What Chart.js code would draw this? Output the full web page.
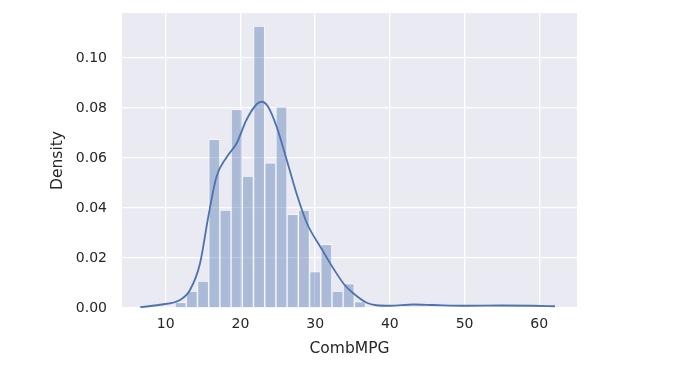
<!DOCTYPE html>
<html>
<head>
<meta charset="utf-8">
<script src="https://cdn.jsdelivr.net/npm/chart.js@4.4.1/dist/chart.umd.min.js"></script>
<style>
  html, body { margin: 0; padding: 0; background: #ffffff; }
  #wrap { width: 687px; height: 376px; position: relative; }
</style>
</head>
<body>
<div id="wrap"><canvas id="c" width="687" height="376"></canvas></div>
<script>
// Histogram bins (centers, width 1.5) and densities
const binCenters = [12.0, 13.5, 15.0, 16.5, 18.0, 19.5, 21.0, 22.5, 24.0, 25.5, 27.0, 28.5, 30.0, 31.5, 33.0, 34.5, 36.0];
const binDensity = [0.0023, 0.0068, 0.0108, 0.0675, 0.0392, 0.0795, 0.0528, 0.1128, 0.0581, 0.0805, 0.0375, 0.0392, 0.0146, 0.0255, 0.0068, 0.0098, 0.0026];

// KDE curve
const kdeX = [6.6, 9.2, 11.9, 13.25, 14.6, 15.7, 16.8, 18.2, 19.5, 20.8, 22.2, 22.85, 23.7, 24.85, 26.2, 27.5, 28.9, 30.8, 32.4, 33.9, 35.1, 36.9, 38.2, 40.0, 43.2, 45.8, 50.3, 54.8, 59.2, 62.1];
const kdeY = [0.0003, 0.0013, 0.0032, 0.0072, 0.0179, 0.0365, 0.0525, 0.0605, 0.0659, 0.0752, 0.0816, 0.0825, 0.0805, 0.0725, 0.0592, 0.0459, 0.0339, 0.0240, 0.0160, 0.0094, 0.0059, 0.0021, 0.0011, 0.0009, 0.0014, 0.0012, 0.0009, 0.0010, 0.0009, 0.0007];

const xTicks = [10, 20, 30, 40, 50, 60];
const yTicks = [0.00, 0.02, 0.04, 0.06, 0.08, 0.10];
const xLabel = 'CombMPG';
const yLabel = 'Density';

const bgPlugin = {
  id: 'bg',
  beforeDraw(chart) {
    const {ctx, chartArea: a} = chart;
    ctx.save();
    ctx.fillStyle = '#EAEAF2';
    ctx.fillRect(a.left, a.top, a.right - a.left, a.bottom - a.top);
    ctx.restore();
  }
};

Chart.defaults.font.family = '"DejaVu Sans", sans-serif';
Chart.defaults.color = '#262626';

new Chart(document.getElementById('c'), {
  data: {
    datasets: [
      {
        type: 'line',
        order: 0,
        data: kdeX.map((x, i) => ({x: x, y: kdeY[i]})),
        borderColor: '#4C72B0',
        borderWidth: 1.8,
        pointRadius: 0,
        cubicInterpolationMode: 'monotone',
        fill: false
      },
      {
        type: 'bar',
        order: 1,
        data: binCenters.map((x, i) => ({x: x, y: binDensity[i]})),
        backgroundColor: 'rgba(76,114,176,0.4)',
        borderColor: 'rgba(255,255,255,0.55)',
        borderWidth: 1,
        barPercentage: 1.0,
        categoryPercentage: 1.0,
        grouped: false
      }
    ]
  },
  options: {
    responsive: false,
    animation: false,
    devicePixelRatio: 1,
    layout: { padding: { top: 13, right: 110, left: 0, bottom: 0 } },
    plugins: { legend: { display: false }, tooltip: { enabled: false } },
    scales: {
      x: {
        type: 'linear',
        offset: false,
        min: 4.15,
        max: 65.05,
        afterBuildTicks: (s) => { s.ticks = xTicks.map(v => ({value: v})); },
        afterFit: (s) => { s.height = 68; s.paddingLeft = 0; s.paddingRight = 0; },
        grid: { color: '#ffffff', lineWidth: 1.3, drawTicks: false, offset: false },
        border: { display: false },
        ticks: { padding: 8, font: { size: 14 }, color: '#262626', maxRotation: 0,
                 callback: (v) => String(v) },
        title: { display: true, text: xLabel, font: { size: 15.5 }, color: '#262626',
                 padding: { top: 0, bottom: 18 } }
      },
      y: {
        type: 'linear',
        min: 0,
        max: 0.118,
        afterBuildTicks: (s) => { s.ticks = yTicks.map(v => ({value: v})); },
        afterFit: (s) => { s.width = 122; s.paddingTop = 0; s.paddingBottom = 0; },
        grid: { color: '#ffffff', lineWidth: 1.3, drawTicks: false },
        border: { display: false },
        ticks: { padding: 15, font: { size: 14 }, color: '#262626',
                 callback: (v) => v.toFixed(2) },
        title: { display: true, text: yLabel, font: { size: 15.5 }, color: '#262626',
                 padding: { top: 49, bottom: 0 } }
      }
    }
  },
  plugins: [bgPlugin]
});
</script>
</body>
</html>
